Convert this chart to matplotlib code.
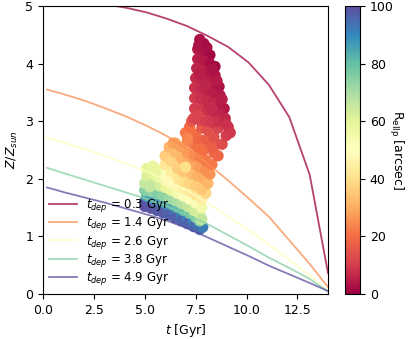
import numpy as np
import matplotlib
matplotlib.use("Agg")
import matplotlib.pyplot as plt

# model tracks: metallicity vs time for several depletion times
t_grid = [0.2, 1.1, 2.1, 3.1, 4.1, 5.1, 6.1, 7.1, 8.1, 9.1, 10.1, 11.1, 12.1, 13.1, 14.0]
t_dep = [0.3, 1.4, 2.6, 3.8, 4.9]
z_dep03 = [5.22, 5.17, 5.10, 5.03, 4.97, 4.89, 4.78, 4.65, 4.48, 4.29, 4.02, 3.63, 3.07, 2.07, 0.36]
z_dep14 = [3.55, 3.46, 3.35, 3.22, 3.08, 2.92, 2.74, 2.51, 2.26, 1.97, 1.66, 1.34, 0.93, 0.52, 0.12]
z_dep26 = [2.71, 2.62, 2.51, 2.39, 2.26, 2.13, 1.97, 1.79, 1.58, 1.34, 1.11, 0.86, 0.59, 0.32, 0.05]
z_dep38 = [2.19, 2.09, 1.98, 1.87, 1.76, 1.65, 1.52, 1.37, 1.21, 1.02, 0.83, 0.63, 0.45, 0.26, 0.04]
z_dep49 = [1.85, 1.76, 1.67, 1.58, 1.48, 1.38, 1.27, 1.14, 0.98, 0.82, 0.66, 0.49, 0.34, 0.19, 0.05]
z_tracks = [z_dep03, z_dep14, z_dep26, z_dep38, z_dep49]

# measured points: age, metallicity, elliptical radius
age = [
    # purple band
    5.0, 5.0, 5.3, 5.3, 5.6, 5.6, 5.9, 5.9, 6.2, 6.2, 6.5, 6.5, 6.8, 6.8, 7.1, 7.1, 7.4, 7.4, 7.7, 7.7, 7.85,
    # teal
    5.1, 5.4, 5.7, 6.0, 6.3, 6.6, 6.9, 7.2, 7.5, 7.7,
    # green
    5.0, 5.3, 5.6, 5.9, 6.2, 6.5, 6.8, 7.1, 7.4, 7.7, 7.8,
    # yellow-green
    5.0, 5.1, 5.1, 5.4, 5.4, 5.4, 5.7, 5.7, 5.7, 6.0, 6.0, 6.0, 6.3, 6.3, 6.6, 6.6, 6.9, 6.9,
    7.2, 7.2, 7.5, 7.5, 7.8, 7.8, 8.0,
    # orange
    6.0, 6.0, 6.2, 6.3, 6.3, 6.5, 6.5, 6.6, 6.6, 6.8, 6.8, 6.9, 6.9, 7.1, 7.1, 7.1, 7.2, 7.3,
    7.4, 7.4, 7.5, 7.6, 7.7, 7.7, 7.8, 7.9, 8.0, 8.0, 8.1, 8.2, 8.3, 8.4, 8.5,
    # red-orange
    7.0, 7.2, 7.4, 7.4, 7.6, 7.6, 7.8, 7.9, 8.0, 8.1, 8.3, 8.4, 8.6, 8.6, 8.8, 8.8, 9.0, 9.1,
    9.2, 7.1, 7.3,
    # red
    7.7, 7.9, 7.6, 7.9, 8.2, 7.6, 7.9, 8.2, 8.45, 7.55, 7.85, 8.15, 8.45, 7.5, 7.8, 8.1, 8.4,
    8.65, 7.45, 7.75, 8.05, 8.35, 8.7, 7.45, 7.75, 8.05, 8.35, 8.7, 8.9, 7.45, 7.75, 8.05, 8.35,
    8.65, 7.4, 7.7, 8.0, 8.3, 8.6, 8.95, 9.0,
    # extra fill
    7.65, 8.05, 7.7, 8.3, 8.0, 8.55, 8.25, 8.8, 7.6, 6.4, 7.0, 5.25, 5.55, 6.15,
]
zmet = [
    1.60, 1.52, 1.57, 1.49, 1.53, 1.45, 1.49, 1.41, 1.45, 1.37, 1.40, 1.32, 1.35, 1.27, 1.30, 1.22, 1.25, 1.17, 1.20, 1.12, 1.16,
    1.70, 1.66, 1.62, 1.58, 1.55, 1.50, 1.45, 1.40, 1.33, 1.27,
    1.80, 1.78, 1.74, 1.70, 1.66, 1.62, 1.57, 1.52, 1.45, 1.38, 1.30,
    1.92, 2.05, 2.18, 2.22, 1.95, 2.08, 2.15, 1.88, 2.02, 1.85, 1.98, 2.10, 1.80, 1.93, 1.75, 1.88, 1.70, 1.83,
    1.65, 1.78, 1.58, 1.72, 1.50, 1.64, 1.75,
    2.25, 2.40, 2.55, 2.10, 2.30, 2.45, 2.62, 2.00, 2.18, 2.35, 2.55, 1.95, 2.12, 2.28, 2.45, 2.65, 1.92, 2.08,
    2.25, 2.40, 1.88, 2.05, 2.20, 2.38, 1.82, 2.00, 2.15, 2.32, 1.92, 2.08, 2.25, 2.45, 2.60,
    2.80, 2.90, 2.60, 2.78, 2.55, 2.70, 2.88, 2.50, 2.68, 2.85, 2.55, 2.72, 2.40, 2.88, 2.60, 2.95, 2.75, 2.90,
    2.80, 2.70, 3.00,
    4.42, 4.35, 4.25, 4.20, 4.15, 4.08, 4.05, 4.00, 3.95, 3.92, 3.88, 3.85, 3.80, 3.75, 3.72, 3.68, 3.65,
    3.60, 3.58, 3.55, 3.52, 3.48, 3.45, 3.40, 3.38, 3.35, 3.32, 3.30, 3.22, 3.22, 3.20, 3.18, 3.15,
    3.12, 3.05, 3.02, 3.00, 2.98, 3.00, 3.05, 2.95,
    4.32, 4.28, 3.82, 3.90, 3.62, 3.70, 3.26, 3.38, 3.12, 2.62, 2.20, 1.86, 2.12, 1.95,
]
r_ellp = [
    97, 99, 96, 99, 95, 98, 94, 98, 93, 97, 92, 97, 92, 96, 91, 96, 90, 95, 90, 95, 92,
    84, 86, 87, 86, 84, 82, 80, 78, 76, 72,
    75, 74, 76, 74, 72, 70, 68, 66, 64, 62, 66,
    66, 62, 60, 58, 64, 60, 56, 63, 58, 60, 54, 52, 58, 50, 55, 47, 52, 45,
    50, 43, 52, 42, 55, 44, 38,
    42, 36, 32, 44, 38, 33, 29, 42, 37, 32, 28, 40, 35, 30, 27, 25, 38, 33,
    29, 25, 36, 31, 27, 23, 35, 30, 25, 22, 32, 26, 22, 18, 16,
    22, 20, 22, 20, 21, 19, 16, 20, 17, 14, 17, 14, 18, 12, 13, 10, 10, 8,
    9, 24, 16,
    3, 2, 4, 3, 1, 5, 4, 2, 1, 6, 5, 4, 3, 7, 6, 5, 4,
    3, 8, 7, 6, 5, 4, 9, 8, 7, 6, 5, 4, 10, 9, 8, 7,
    6, 12, 11, 10, 9, 8, 6, 8,
    3, 2, 5, 3, 6, 4, 7, 5, 11, 28, 40, 66, 58, 48,
]

fig = plt.figure(figsize=(4.09, 3.39), dpi=100)
ax = fig.add_axes([0.105, 0.133, 0.697, 0.849])
cax = fig.add_axes([0.843, 0.133, 0.037, 0.849])

sc = ax.scatter(age, zmet, c=r_ellp, cmap="Spectral", vmin=0, vmax=100, s=66, linewidths=0)

cmap = plt.get_cmap("Spectral")
for i, (td, zt) in enumerate(zip(t_dep, z_tracks)):
    ax.plot(t_grid, zt, color=cmap(i / (len(t_dep) - 1)), alpha=0.75, lw=1.3,
            label=r"$t_{dep}$ = %.1f Gyr" % td)

ax.set_xlim(0, 14)
ax.set_ylim(0, 5)
ax.set_xticks([0, 2.5, 5, 7.5, 10, 12.5])
ax.set_yticks([0, 1, 2, 3, 4, 5])
ax.tick_params(labelsize=9)
ax.set_xlabel(r"$t$ [Gyr]", fontsize=9)
ax.set_ylabel(r"$Z/Z_{sun}$", fontsize=9)
ax.legend(loc="lower left", frameon=False, fontsize=8.5, handlelength=2.3,
          labelspacing=0.12, borderaxespad=0.15)

cb = fig.colorbar(sc, cax=cax)
cb.set_label(r"R$_{\rm ellp}$ [arcsec]", rotation=270, labelpad=8, fontsize=9)
cb.ax.tick_params(labelsize=9)

fig.savefig("out.png", dpi=100)
